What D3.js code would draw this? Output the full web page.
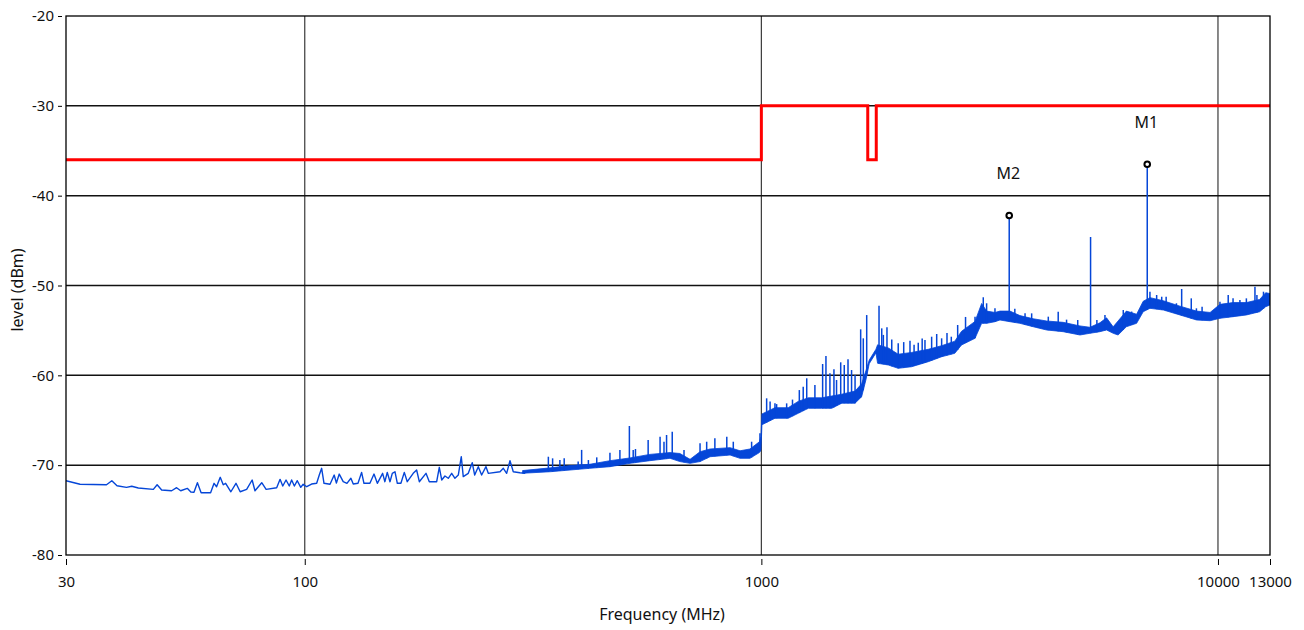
<!DOCTYPE html>
<html lang="en">
<head>
<meta charset="UTF-8">
<title>Radiated emission scan</title>
<script src="https://cdn.jsdelivr.net/npm/d3@7"></script>
<style>
    body { margin: 0; background: #fff; }
    svg { display: block; font-family: "Noto Sans", "Open Sans", sans-serif; }
</style>
</head>
<body>
<svg id="chart" width="1304" height="630"></svg>
<script>
// axis ticks
const xTicks = [30, 100, 1000, 10000, 13000];
const yTicks = [-80, -70, -60, -50, -40, -30, -20];
const yGrid = [-70, -60, -50, -40, -30];
const xGrid = [100, 1000, 10000];

// limit line (red step)
const limitFreq  = [30, 1000, 1000, 1710, 1710, 1785, 1785, 13000];
const limitLevel = [-36, -36, -30, -30, -36, -36, -30, -30];

// trace below 300 MHz (single line)
const lowFreq = [
    30, 32.2, 36.8, 37.8, 38.8, 40.7, 41.8, 43.2, 46.6, 47.5,
    48.6, 51.1, 52.4, 53.5, 55.3, 56.3, 57.2, 58.2, 59.3, 62.2,
    63.3, 64.1, 65.3, 66.3, 67.1, 68.9, 70.7, 72.2, 74.6, 76.7,
    77.8, 80.5, 82.3, 86.8, 88.3, 89.5, 91.0, 92.5, 93.6, 94.9,
    96.3, 98.0, 99.2, 101, 103.5, 106.2, 107.6, 108.9, 110.2, 113.6,
    116, 117.3, 119, 121.4, 123.7, 126.2, 127.7, 130.8, 133.2, 134.8,
    138.9, 141.8, 144.2, 148.1, 149.8, 151.6, 153.7, 155.5, 157.6, 159.5,
    162.4, 165.2, 167.7, 172.8, 175.8, 178.2, 184.3, 187.4, 194.5, 197.1,
    199.5, 202.8, 206.2, 209.8, 213.3, 216.9, 220.2, 222.4, 228.1, 232.7,
    235.6, 239.9, 244, 249.4, 252.3, 267.7, 272.2, 276.8, 281.5, 286.2,
    296, 304
];
const lowLevel = [
    -71.73, -72.13, -72.18, -71.73, -72.29, -72.47, -72.35, -72.54, -72.69, -72.18,
    -72.77, -72.85, -72.51, -72.85, -72.58, -72.99, -73.02, -71.95, -73.07, -73.07,
    -72.02, -72.4, -71.35, -72.18, -72.02, -72.96, -72.02, -72.96, -72.69, -71.65,
    -72.85, -71.95, -72.69, -72.51, -71.58, -72.32, -71.65, -72.32, -71.65, -72.32,
    -71.73, -72.47, -72.13, -72.4, -72.1, -72.02, -71.1, -70.35, -72.02, -72.13,
    -71.1, -71.99, -70.99, -71.84, -72.02, -71.46, -72.1, -72.02, -70.8, -72.02,
    -72.02, -70.99, -72.02, -70.91, -71.84, -70.8, -71.84, -70.91, -70.73, -72.02,
    -72.02, -70.8, -71.84, -70.91, -70.54, -71.84, -70.91, -71.84, -71.84, -70.24,
    -71.65, -71.2, -71.46, -70.91, -71.46, -71.1, -69.06, -71.28, -70.91, -69.73,
    -71.1, -70.17, -71.1, -70.17, -70.91, -70.73, -70.35, -70.91, -69.5, -70.73,
    -70.84, -70.9
];

// dense part above 300 MHz: lower / upper edge of the noise band
const bandFreq = [
    300, 345, 381, 421, 466, 515, 570, 631, 663, 698,
    734, 772, 854, 898, 944, 990, 998, 1003, 1071, 1145,
    1204, 1267, 1355, 1426, 1500, 1604, 1658, 1694, 1723, 1782,
    1797, 1897, 1994, 2134, 2321, 2482, 2652, 2744, 2937, 3037,
    3114, 3248, 3331, 3503, 3684, 3938, 4212, 4580, 4986, 5244,
    5514, 5701, 5895, 6043, 6301, 6635, 6859, 7097, 7595, 8255,
    8976, 9610, 10100, 10790, 11540, 12340, 12720, 13000
];
const bandMin = [
    -70.9, -70.73, -70.54, -70.35, -70.17, -69.8, -69.5, -69.24, -69.6, -69.8,
    -69.6, -69.06, -68.87, -69.24, -69.24, -68.6, -68.3, -65.5, -64.78, -64.78,
    -64.23, -63.67, -63.67, -63.67, -63.1, -63.1, -62.38, -60.52, -58.7, -57.5,
    -58.66, -58.85, -59.22, -59.04, -58.48, -57.93, -57.55, -56.62, -55.88, -54.21,
    -54.21, -54.03, -53.84, -54.03, -54.21, -54.59, -54.95, -55.14, -55.51, -55.32,
    -55.14, -54.95, -55.32, -55.51, -54.59, -54.21, -52.92, -52.54, -52.73, -53.28,
    -53.84, -53.92, -53.65, -53.47, -53.28, -52.92, -52.36, -52.17
];
const bandMax = [
    -70.6, -70.3, -70.05, -69.9, -69.5, -69.2, -68.8, -68.6, -68.7, -69.35,
    -68.5, -68.2, -68.05, -68.4, -68.2, -67.4, -66.8, -64.3, -63.6, -63.6,
    -62.9, -62.5, -62.5, -62.3, -62.1, -61.75, -60.95, -59.5, -58.3, -57.1,
    -56.6, -56.95, -57.65, -57.45, -57.1, -56.7, -56.2, -55.1, -54.0, -52.0,
    -52.85, -53.0, -52.85, -52.85, -53.35, -53.7, -53.95, -54.1, -54.5, -54.65,
    -54.15, -53.6, -54.6, -53.95, -52.85, -53.2, -51.75, -51.35, -51.7, -52.3,
    -52.85, -53.0, -52.1, -51.9, -51.9, -51.55, -50.8, -50.9
];

// narrow spikes rising out of the band
const spikeFreq = [
    341.6, 349, 362, 370, 397, 404, 418, 436, 466, 490,
    514, 524, 530, 565, 600, 612, 620, 638, 677, 734,
    759, 791, 840, 868, 952, 993, 1027, 1045, 1071, 1080,
    1136, 1170, 1211, 1235, 1257, 1310, 1362, 1385, 1413, 1442,
    1461, 1492, 1519, 1548, 1576, 1604, 1650, 1672, 1701, 1810,
    1835, 1850, 1884, 1930, 1994, 2050, 2116, 2160, 2206, 2250,
    2282, 2360, 2421, 2482, 2550, 2606, 2691, 2800, 2937, 3062,
    3114, 3248, 3490, 3590, 3780, 3908, 4040, 4250, 4468, 4660,
    4930, 5260, 5430, 5656, 6203, 6470, 7000, 7096, 7340, 7530,
    7700, 8110, 8327, 8740, 8970, 9230, 10100, 10530, 10790, 11170,
    11540, 12050, 12170, 12580
];
const spikeLevel = [
    -69.06, -69.24, -69.43, -69.24, -69.6, -68.3, -69.43, -69.13, -68.62, -68.3,
    -65.64, -68.3, -68.2, -67.2, -66.83, -67.39, -66.64, -66.27, -68.3, -67.57,
    -67.39, -67.0, -66.83, -67.39, -67.39, -66.45, -62.56, -62.9, -63.12, -63.2,
    -63.12, -62.7, -61.64, -61.26, -60.33, -61.08, -58.74, -57.85, -59.78, -59.33,
    -60.52, -58.55, -58.85, -58.22, -59.41, -59.97, -54.88, -55.88, -53.29, -52.25,
    -54.77, -55.5, -54.65, -56.0, -56.44, -56.3, -56.15, -56.6, -56.37, -55.9,
    -56.07, -55.7, -55.4, -55.88, -55.3, -55.7, -54.4, -53.5, -53.47, -51.31,
    -51.98, -52.54, -42.2, -52.6, -53.1, -53.1, -53.84, -53.47, -52.92, -53.8,
    -53.84, -44.6, -53.84, -53.28, -52.73, -52.9, -36.5, -50.69, -51.06, -51.25,
    -51.25, -51.98, -50.39, -51.43, -52.54, -52.36, -51.8, -51.06, -51.43, -51.62,
    -51.43, -50.13, -51.06, -50.69
];

// markers
const markerName  = ["M1", "M2"];
const markerFreq  = [7000, 3490];
const markerLevel = [-36.5, -42.2];

const blue = "#0546d8";
const svg = d3.select("#chart");

const x = d3.scaleLog().domain([30, 13000]).range([66, 1270]);
const y = d3.scaleLinear().domain([-80, -20]).range([555, 16]);

// lower edge of the band at any frequency, for spike bases
const bandFloor = d3.scaleLog().domain(bandFreq).range(bandMin);

svg.append("clipPath").attr("id", "plot")
    .append("rect")
    .attr("x", 66).attr("y", 16)
    .attr("width", x(13000) - 66).attr("height", 555 - 16);

// grid
svg.append("g").selectAll("line")
    .data(xGrid).enter().append("line")
    .attr("x1", d => x(d)).attr("x2", d => x(d))
    .attr("y1", 16).attr("y2", 555)
    .attr("stroke", "#3a3a3a").attr("stroke-width", 1.2);

svg.append("g").selectAll("line")
    .data(yGrid).enter().append("line")
    .attr("x1", 66).attr("x2", x(13000))
    .attr("y1", d => y(d)).attr("y2", d => y(d))
    .attr("stroke", "#111").attr("stroke-width", 1.5);

const plot = svg.append("g").attr("clip-path", "url(#plot)");

// limit line
plot.append("path")
    .datum(d3.range(limitFreq.length))
    .attr("fill", "none")
    .attr("stroke", "#ff0000")
    .attr("stroke-width", 3)
    .attr("d", d3.line().x(i => x(limitFreq[i])).y(i => y(limitLevel[i])));

// trace up to 300 MHz
plot.append("path")
    .datum(d3.range(lowFreq.length))
    .attr("fill", "none")
    .attr("stroke", blue)
    .attr("stroke-width", 1.4)
    .attr("stroke-linejoin", "round")
    .attr("d", d3.line().x(i => x(lowFreq[i])).y(i => y(lowLevel[i])));

// noise band above 300 MHz
plot.append("path")
    .datum(d3.range(bandFreq.length))
    .attr("fill", blue)
    .attr("stroke", blue)
    .attr("stroke-width", 0.8)
    .attr("d", d3.area()
        .x(i => x(bandFreq[i]))
        .y0(i => y(bandMin[i]))
        .y1(i => y(bandMax[i])));

// spikes
plot.append("g").selectAll("line")
    .data(d3.range(spikeFreq.length)).enter().append("line")
    .attr("x1", i => x(spikeFreq[i])).attr("x2", i => x(spikeFreq[i]))
    .attr("y1", i => y(spikeLevel[i]))
    .attr("y2", i => y(bandFloor(spikeFreq[i])))
    .attr("stroke", blue)
    .attr("stroke-width", 1.5);

// frame
svg.append("rect")
    .attr("x", 66).attr("y", 16)
    .attr("width", x(13000) - 66).attr("height", 555 - 16)
    .attr("fill", "none").attr("stroke", "#000").attr("stroke-width", 1.3);

// markers
const mk = svg.append("g");
mk.selectAll("circle")
    .data(d3.range(markerName.length)).enter().append("circle")
    .attr("cx", i => x(markerFreq[i])).attr("cy", i => y(markerLevel[i]))
    .attr("r", 2.8)
    .attr("fill", "#fff").attr("stroke", "#000").attr("stroke-width", 2);
mk.selectAll("text")
    .data(d3.range(markerName.length)).enter().append("text")
    .attr("x", i => x(markerFreq[i]) - 1).attr("y", i => y(markerLevel[i]) - 36)
    .attr("text-anchor", "middle")
    .attr("font-size", 16)
    .attr("fill", "#111")
    .text(i => markerName[i]);

// axes
const yAxis = svg.append("g")
    .attr("transform", "translate(62,0)")
    .call(d3.axisLeft(y).tickValues(yTicks).tickSize(4).tickPadding(4)
        .tickFormat(d => String(d)));
const xAxis = svg.append("g")
    .attr("transform", "translate(0,559)")
    .call(d3.axisBottom(x).tickValues(xTicks).tickSize(6).tickPadding(11)
        .tickFormat(d => String(d)));

[yAxis, xAxis].forEach(g => {
    g.select(".domain").remove();
    g.selectAll("line").attr("stroke", "#000");
    g.selectAll("text")
        .attr("font-size", 15)
        .attr("font-family", "'Noto Sans', sans-serif")
        .attr("fill", "#111");
});

// axis titles
svg.append("text")
    .attr("x", 662).attr("y", 620)
    .attr("text-anchor", "middle")
    .attr("font-size", 16).attr("fill", "#111")
    .text("Frequency (MHz)");

svg.append("text")
    .attr("transform", "translate(23,290) rotate(-90)")
    .attr("text-anchor", "middle")
    .attr("font-size", 16).attr("fill", "#111")
    .text("level (dBm)");
</script>
</body>
</html>
